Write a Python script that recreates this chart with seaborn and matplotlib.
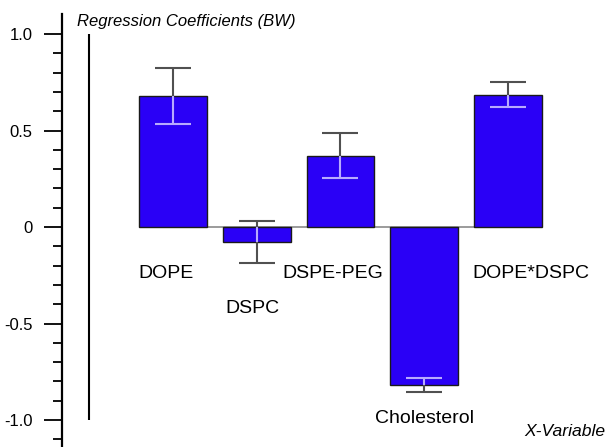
import numpy as np
import pandas as pd
import matplotlib
matplotlib.use("Agg")
import matplotlib.pyplot as plt
import seaborn as sns

# ---- data ----
variables = ["DOPE", "DSPC", "DSPE-PEG", "Cholesterol", "DOPE*DSPC"]
coefficients = [0.677, -0.078, 0.370, -0.821, 0.686]
errors = [0.145, 0.107, 0.117, 0.036, 0.064]
ytick_values = [1.0, 0.5, 0.0, -0.5, -1.0]
ytick_labels = ["1.0", "0.5", "0", "-0.5", "-1.0"]

# ---- layout (label placement, not data) ----
label_dx = [-0.08, -0.05, -0.09, 0.0, 0.27]
label_y = [-0.24, -0.42, -0.24, -0.99, -0.24]

sns.set_theme(style="white")
plt.rcParams["font.family"] = ["Liberation Sans", "DejaVu Sans"]

df = pd.DataFrame({"var": variables, "coef": coefficients, "err": errors})

fig = plt.figure(figsize=(6.06, 4.47), dpi=100)
ax = fig.add_axes([62 / 606, 0.0, 1 - 62 / 606, 1 - 14 / 447])

bar_color = "#2A00F6"
sns.barplot(data=df, x="var", y="coef", color=bar_color, saturation=1,
            width=0.81, edgecolor="#1a1a1a", linewidth=1.0, ax=ax, zorder=2)

xs = np.arange(len(variables))
coef = np.array(coefficients)
err = np.array(errors)

# zero line across the bars
ax.hlines(0, xs[0] - 0.405, xs[-1] + 0.405, color="#8a8a8a", lw=1.2, zorder=1)

# dark error bars
ax.errorbar(xs, coef, yerr=err, fmt="none", ecolor="#505050", elinewidth=1.5,
            capsize=13, capthick=1.5, zorder=3)
# light part inside the bars
inner_end = np.where(coef > 0, np.maximum(coef - err, 0), np.minimum(coef + err, 0))
ax.vlines(xs, inner_end, coef, color="#B8AAFF", lw=1.5, zorder=4)
inside = np.abs(coef) - err > 0
ax.hlines(inner_end[inside], xs[inside] - 0.215, xs[inside] + 0.215,
          color="#B8AAFF", lw=1.5, zorder=4)

# vertical reference line
ax.vlines(-1.0, -1.0, 1.0, color="black", lw=1.5, zorder=1)

ax.set_xlim(-1.325, 5.17)
ax.set_ylim(-1.14, 1.104)

for i, name in enumerate(variables):
    ax.text(xs[i] + label_dx[i], label_y[i], name, ha="center", va="center",
            fontsize=14, color="black")

ax.set_yticks(ytick_values)
ax.set_yticklabels(ytick_labels, fontsize=12, color="black")
ax.set_yticks(np.arange(-1.1, 1.05, 0.1), minor=True)
ax.tick_params(axis="y", which="major", direction="out", length=13, width=1.3,
               pad=8, left=True, color="black")
ax.tick_params(axis="y", which="minor", direction="out", length=6.5, width=1.3,
               left=True, color="black")
ax.set_xticks([])
ax.set_xlabel("")
ax.set_ylabel("")
for s in ["top", "right", "bottom"]:
    ax.spines[s].set_visible(False)
ax.spines["left"].set_color("black")
ax.spines["left"].set_linewidth(1.6)
ax.set_facecolor("white")
fig.patch.set_facecolor("white")

fig.text(77 / 606, 1 - 21.5 / 447, "Regression Coefficients (BW)", style="italic",
         fontsize=12, ha="left", va="center", color="black")
fig.text(605 / 606, 1 - 431 / 447, "X-Variable", style="italic",
         fontsize=12.6, ha="right", va="center", color="black")

fig.savefig("out.png", dpi=100)
